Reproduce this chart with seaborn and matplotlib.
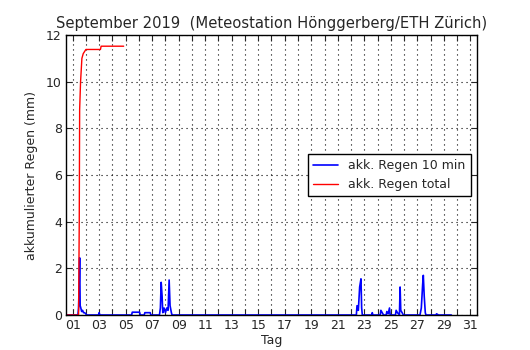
import matplotlib
matplotlib.use("Agg")
import matplotlib.pyplot as plt
import seaborn as sns
import pandas as pd

# 10-minute accumulated rain (mm) vs. day of month
rain10_day = [0.5, 1.40, 1.45, 1.50, 1.53, 1.57, 1.62, 1.68, 1.75, 1.82, 1.90, 2.00, 2.05,
              2.95, 3.00, 3.05, 5.45, 5.50, 6.05, 6.10, 6.40, 6.45, 6.85, 6.90,
              7.55, 7.62, 7.68, 7.75, 7.80, 7.90, 8.00, 8.10, 8.20, 8.28, 8.35, 8.45, 8.50,
              22.40, 22.45, 22.55, 22.65, 22.75, 22.80, 22.85, 23.55, 23.60, 23.65,
              24.20, 24.25, 24.35, 24.45, 24.65, 24.70, 24.80, 24.90, 24.95,
              25.35, 25.40, 25.50, 25.65, 25.70, 25.75, 25.85, 25.95,
              27.20, 27.30, 27.40, 27.45, 27.52, 27.60, 27.65, 28.40, 28.45, 28.60, 29.56]
rain10_val = [0, 0, 0.3, 1.5, 2.45, 0.4, 0.3, 0.15, 0.2, 0.1, 0.1, 0.05, 0,
              0, 0.1, 0, 0, 0.12, 0.12, 0, 0, 0.1, 0.1, 0,
              0, 0.3, 1.4, 0.8, 0.1, 0.3, 0.1, 0.3, 0.2, 1.5, 0.4, 0.1, 0,
              0, 0.4, 0.2, 1.2, 1.55, 0.3, 0, 0, 0.1, 0,
              0, 0.2, 0.1, 0, 0, 0.15, 0.05, 0.3, 0,
              0, 0.2, 0.1, 0, 1.2, 0.2, 0.1, 0,
              0, 0.3, 1.3, 1.7, 0.8, 0.1, 0, 0, 0.05, 0, 0]

# total accumulated rain (mm)
total_day = [0.5, 1.45, 1.50, 1.53, 1.60, 1.70, 1.80, 2.00, 3.10, 3.15, 4.85]
total_val = [0, 0, 4.0, 8.8, 10.0, 11.0, 11.2, 11.38, 11.38, 11.52, 11.52]

xtick_days = list(range(1, 32))
xtick_labels = [f"{d:02d}" if d % 2 == 1 else "" for d in xtick_days]
ytick_vals = [0, 2, 4, 6, 8, 10, 12]

sns.set_style("white")
plt.rcParams["font.family"] = ["DejaVu Sans"]

fig = plt.figure(figsize=(5.3, 3.5), dpi=100)
ax = fig.add_axes([0.1245, 0.1, 0.7755, 0.8])

df10 = pd.DataFrame({"Tag": rain10_day, "mm": rain10_val})
dft = pd.DataFrame({"Tag": total_day, "mm": total_val})
sns.lineplot(data=df10, x="Tag", y="mm", ax=ax, color="blue", lw=1.2,
             estimator=None, sort=False, label="akk. Regen 10 min")
sns.lineplot(data=dft, x="Tag", y="mm", ax=ax, color="red", lw=1.0,
             estimator=None, sort=False, label="akk. Regen total")

ax.set_xlim(0.5, 31.5)
ax.set_ylim(0, 12)
ax.set_xticks(xtick_days)
ax.set_xticklabels(xtick_labels, fontsize=9)
ax.set_yticks(ytick_vals)
ax.set_yticklabels([str(v) for v in ytick_vals], fontsize=9)
ax.tick_params(direction="in", top=True, right=True, length=4, width=0.8,
               bottom=True, left=True, pad=3)
ax.grid(True, color="black", linestyle=(0, (1, 3.5)), linewidth=0.8)
for s in ax.spines.values():
    s.set_color("black")
    s.set_linewidth(1.0)

ax.set_xlabel("Tag", fontsize=9, labelpad=1)
ax.set_ylabel("akkumulierter Regen (mm)", fontsize=9, labelpad=6)
ax.set_title("September 2019  (Meteostation Hönggerberg/ETH Zürich)", fontsize=10.6, pad=5)

leg = ax.legend(loc="center right", fontsize=9, frameon=True, fancybox=False,
                edgecolor="black", framealpha=1, borderaxespad=0.5, handlelength=2.0)
leg.get_frame().set_linewidth(1.0)

fig.savefig("out.png", dpi=100)
